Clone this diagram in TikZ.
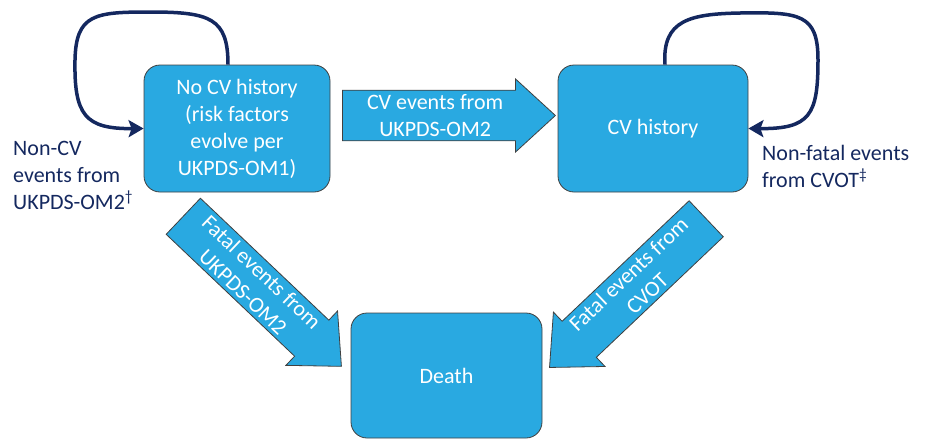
\documentclass[tikz,border=0pt]{standalone}
\usepackage{fontspec}
\setmainfont{Carlito}
\usetikzlibrary{shapes.arrows,arrows.meta}
\definecolor{boxblue}{HTML}{29A9E1}
\definecolor{navy}{HTML}{14285F}
\tikzset{
    statebox/.style={draw=black!75,line width=0.8pt,fill=boxblue,rounded corners=16pt,text=white,align=center,inner sep=0pt},
    flowarrow/.style={single arrow,draw=black!75,line width=0.8pt,fill=boxblue,text=white,align=center,inner sep=1pt,single arrow tip angle=85,anchor=tail},
    selfloop/.style={draw=navy,line width=3.5pt,-{Stealth[length=15pt,width=17pt,inset=3pt]}},
    every node/.append style={font=\fontsize{22}{27}\selectfont}
}
\begin{document}
\begin{tikzpicture}[x=1pt,y=-1pt]
    \useasboundingbox (0,0) rectangle (929,440);
    % states
    \node[statebox,minimum width=186pt,minimum height=127pt] (nocv) at (237,128.5) {No CV history\\(risk factors\\evolve per\\UKPDS-OM1)};
    \node[statebox,minimum width=190pt,minimum height=127pt] (cvh) at (653,128.5) {CV history};
    \node[statebox,minimum width=191pt,minimum height=125pt] (death) at (446.5,375.5) {Death};
    % transitions
    \node[flowarrow,minimum height=213pt,minimum width=73pt,single arrow head extend=10pt] (cvev) at (342,115.5) {CV events from\\UKPDS-OM2};
    \node[flowarrow,rotate=-43.5,minimum height=218pt,minimum width=75pt,single arrow head extend=11.5pt] (fatalukp) at (183,216) {Fatal events from\\UKPDS-OM2};
    \node[flowarrow,rotate=43.5,shape border rotate=180,minimum height=216pt,minimum width=75pt,single arrow head extend=11.5pt] (fatalcvot) at (706.5,218.5) {Fatal events from\\CVOT};
    % loops
    \draw[selfloop] ([xshift=-9pt]nocv.north) .. controls (228,18) and (210,12) .. (150,12) .. controls (95,12) and (76,14) .. (75,60) .. controls (74,115) and (85,129) .. (nocv.west);
    \draw[selfloop] ([xshift=12pt]cvh.north) .. controls (662,20) and (690,14) .. (740,13) .. controls (800,12) and (818,14) .. (818,60) .. controls (818,115) and (810,129) .. (cvh.east);
    \node[text=navy,align=left,anchor=west,inner sep=0pt] (noncv) at (13,175) {Non-CV\\events from\\UKPDS-OM2\textsuperscript{\textdagger}};
    \node[text=navy,align=left,anchor=west,inner sep=0pt] (nonfatal) at (762,166) {Non-fatal events\\from CVOT\textsuperscript{\textdaggerdbl}};
\end{tikzpicture}
\end{document}
